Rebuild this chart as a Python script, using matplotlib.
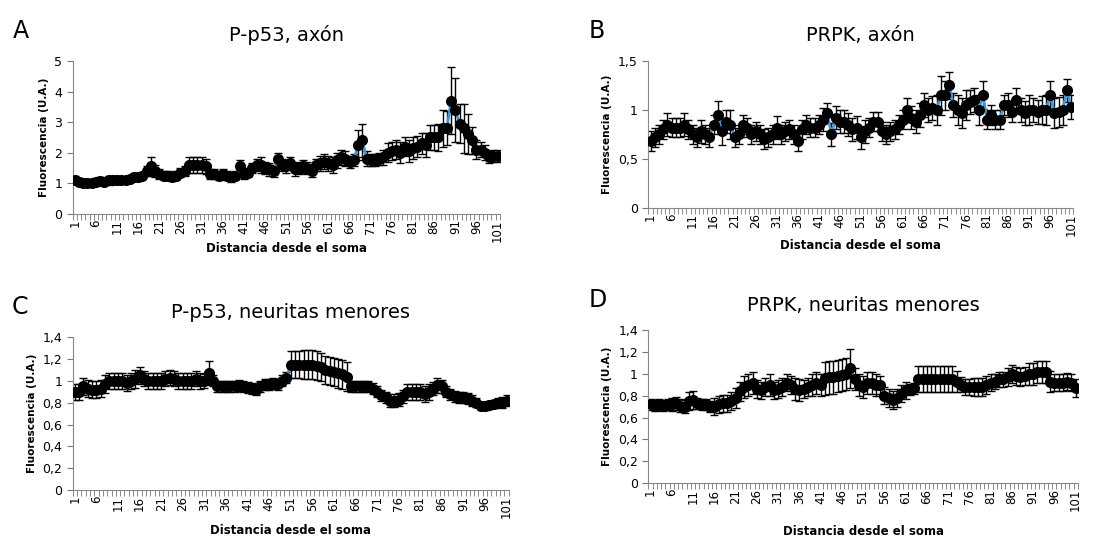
import numpy as np
import matplotlib
matplotlib.use("Agg")
import matplotlib.pyplot as plt
from matplotlib.ticker import FixedLocator, FuncFormatter

# distance from soma, positions 1..101
pos = list(range(1, 102))

a_vals = [1.10, 1.05, 1.00, 1.00, 1.00, 1.05, 1.08, 1.05, 1.10, 1.10,
          1.10, 1.10, 1.10, 1.15, 1.20, 1.20, 1.25, 1.40, 1.55, 1.40,
          1.30, 1.25, 1.25, 1.20, 1.25, 1.35, 1.40, 1.60, 1.60, 1.60,
          1.60, 1.55, 1.30, 1.30, 1.25, 1.30, 1.25, 1.20, 1.25, 1.55,
          1.30, 1.35, 1.50, 1.60, 1.60, 1.50, 1.45, 1.40, 1.80, 1.60,
          1.55, 1.65, 1.45, 1.50, 1.55, 1.50, 1.40, 1.60, 1.65, 1.70,
          1.65, 1.60, 1.75, 1.85, 1.80, 1.70, 1.75, 2.25, 2.40, 1.80,
          1.75, 1.75, 1.80, 1.85, 2.00, 2.05, 2.10, 2.00, 2.20, 2.05,
          2.15, 2.20, 2.30, 2.25, 2.50, 2.50, 2.50, 2.80, 2.80, 3.70,
          3.40, 2.95, 2.80, 2.60, 2.40, 2.10, 2.10, 2.00, 1.85, 1.90, 1.90]
a_err = [0.12, 0.12, 0.10, 0.10, 0.10, 0.12, 0.12, 0.10, 0.15, 0.12,
         0.10, 0.10, 0.10, 0.10, 0.12, 0.12, 0.12, 0.15, 0.30, 0.20,
         0.15, 0.15, 0.15, 0.12, 0.15, 0.15, 0.15, 0.25, 0.25, 0.25,
         0.25, 0.25, 0.15, 0.15, 0.15, 0.15, 0.15, 0.15, 0.15, 0.20,
         0.15, 0.15, 0.15, 0.20, 0.25, 0.20, 0.20, 0.20, 0.20, 0.20,
         0.20, 0.20, 0.20, 0.20, 0.20, 0.20, 0.20, 0.20, 0.25, 0.25,
         0.25, 0.25, 0.25, 0.25, 0.25, 0.20, 0.20, 0.50, 0.55, 0.25,
         0.20, 0.20, 0.20, 0.25, 0.30, 0.30, 0.30, 0.35, 0.30, 0.35,
         0.35, 0.35, 0.35, 0.40, 0.40, 0.40, 0.45, 0.60, 0.55, 1.10,
         1.05, 0.65, 0.80, 0.65, 0.45, 0.30, 0.25, 0.25, 0.20, 0.20, 0.20]

b_vals = [0.68, 0.72, 0.75, 0.80, 0.85, 0.82, 0.82, 0.82, 0.85, 0.80,
          0.75, 0.72, 0.78, 0.75, 0.72, 0.85, 0.95, 0.78, 0.88, 0.85,
          0.72, 0.75, 0.85, 0.82, 0.75, 0.78, 0.75, 0.70, 0.72, 0.75,
          0.82, 0.75, 0.78, 0.80, 0.75, 0.68, 0.80, 0.85, 0.82, 0.82,
          0.85, 0.90, 0.97, 0.75, 0.92, 0.88, 0.88, 0.85, 0.80, 0.82,
          0.72, 0.78, 0.82, 0.88, 0.88, 0.78, 0.75, 0.78, 0.80, 0.85,
          0.90, 1.00, 0.92, 0.88, 0.95, 1.05, 1.00, 1.02, 1.00, 1.15,
          1.15, 1.25, 1.05, 1.00, 0.97, 1.05, 1.08, 1.10, 1.00, 1.15,
          0.90, 0.95, 0.90, 0.90, 1.05, 1.05, 0.98, 1.10, 1.00, 0.97,
          1.00, 1.00, 0.98, 1.00, 1.00, 1.15, 0.97, 0.98, 1.00, 1.20, 1.03]
b_err = [0.10, 0.10, 0.10, 0.10, 0.12, 0.10, 0.10, 0.10, 0.12, 0.10,
         0.10, 0.10, 0.12, 0.10, 0.10, 0.10, 0.14, 0.14, 0.12, 0.15,
         0.10, 0.10, 0.10, 0.10, 0.10, 0.10, 0.10, 0.10, 0.10, 0.10,
         0.12, 0.10, 0.10, 0.10, 0.10, 0.10, 0.10, 0.10, 0.10, 0.10,
         0.10, 0.12, 0.10, 0.12, 0.12, 0.12, 0.12, 0.12, 0.12, 0.12,
         0.12, 0.12, 0.10, 0.10, 0.10, 0.10, 0.10, 0.10, 0.10, 0.10,
         0.10, 0.12, 0.12, 0.12, 0.12, 0.12, 0.12, 0.12, 0.15, 0.20,
         0.15, 0.14, 0.12, 0.15, 0.15, 0.15, 0.12, 0.12, 0.15, 0.14,
         0.10, 0.10, 0.10, 0.10, 0.10, 0.12, 0.10, 0.12, 0.12, 0.12,
         0.15, 0.12, 0.12, 0.14, 0.15, 0.15, 0.15, 0.15, 0.15, 0.12, 0.12]

c_vals = [0.90, 0.90, 0.95, 0.93, 0.92, 0.92, 0.93, 0.97, 1.00, 1.00,
          1.00, 1.00, 0.98, 1.00, 1.02, 1.05, 1.02, 1.00, 1.00, 1.00,
          1.00, 1.02, 1.03, 1.02, 1.00, 1.00, 1.00, 1.00, 1.02, 1.00,
          1.00, 1.07, 1.00, 0.95, 0.95, 0.95, 0.95, 0.95, 0.96, 0.95,
          0.94, 0.93, 0.92, 0.95, 0.97, 0.97, 0.98, 0.97, 1.00, 1.03,
          1.15, 1.15, 1.15, 1.15, 1.15, 1.15, 1.14, 1.13, 1.10, 1.09,
          1.08, 1.07, 1.06, 1.04, 0.95, 0.95, 0.95, 0.95, 0.95, 0.93,
          0.90, 0.87, 0.85, 0.82, 0.82, 0.83, 0.86, 0.90, 0.90, 0.90,
          0.90, 0.88, 0.90, 0.93, 0.96, 0.95, 0.90, 0.88, 0.86, 0.85,
          0.85, 0.84, 0.82, 0.80, 0.77, 0.77, 0.78, 0.79, 0.80, 0.80, 0.82]
c_err = [0.07, 0.07, 0.08, 0.08, 0.08, 0.08, 0.08, 0.08, 0.07, 0.07,
         0.07, 0.07, 0.07, 0.07, 0.08, 0.08, 0.07, 0.07, 0.07, 0.07,
         0.07, 0.07, 0.07, 0.07, 0.07, 0.07, 0.07, 0.07, 0.07, 0.07,
         0.06, 0.11, 0.05, 0.05, 0.05, 0.05, 0.05, 0.05, 0.05, 0.05,
         0.05, 0.05, 0.05, 0.05, 0.05, 0.05, 0.05, 0.05, 0.05, 0.05,
         0.12, 0.12, 0.12, 0.13, 0.13, 0.13, 0.13, 0.13, 0.13, 0.13,
         0.13, 0.13, 0.13, 0.13, 0.05, 0.05, 0.05, 0.05, 0.05, 0.05,
         0.05, 0.05, 0.05, 0.06, 0.06, 0.06, 0.06, 0.07, 0.07, 0.07,
         0.07, 0.07, 0.07, 0.06, 0.07, 0.06, 0.05, 0.05, 0.05, 0.05,
         0.05, 0.05, 0.05, 0.04, 0.04, 0.04, 0.04, 0.04, 0.04, 0.05, 0.05]

d_vals = [0.72, 0.71, 0.72, 0.71, 0.72, 0.72, 0.73, 0.71, 0.70, 0.75,
          0.76, 0.73, 0.72, 0.72, 0.70, 0.70, 0.72, 0.73, 0.73, 0.75,
          0.78, 0.84, 0.88, 0.90, 0.92, 0.86, 0.85, 0.88, 0.90, 0.85,
          0.86, 0.88, 0.92, 0.90, 0.86, 0.85, 0.86, 0.88, 0.90, 0.92,
          0.90, 0.96, 0.97, 0.97, 0.98, 0.99, 1.00, 1.05, 0.95, 0.90,
          0.88, 0.92, 0.92, 0.90, 0.90, 0.80, 0.78, 0.76, 0.78, 0.82,
          0.85, 0.86, 0.87, 0.95, 0.95, 0.95, 0.95, 0.95, 0.95, 0.95,
          0.95, 0.95, 0.93, 0.90, 0.88, 0.88, 0.88, 0.88, 0.88, 0.90,
          0.92, 0.93, 0.95, 0.95, 0.97, 1.00, 0.98, 0.97, 0.98, 1.00,
          1.00, 1.02, 1.02, 1.02, 0.93, 0.92, 0.92, 0.92, 0.93, 0.92, 0.87]
d_err = [0.05, 0.05, 0.05, 0.05, 0.05, 0.06, 0.06, 0.06, 0.06, 0.08,
         0.08, 0.05, 0.05, 0.05, 0.05, 0.08, 0.08, 0.08, 0.08, 0.08,
         0.09, 0.09, 0.10, 0.10, 0.10, 0.08, 0.08, 0.08, 0.10, 0.08,
         0.08, 0.08, 0.08, 0.08, 0.10, 0.10, 0.08, 0.08, 0.10, 0.10,
         0.10, 0.15, 0.15, 0.15, 0.15, 0.15, 0.15, 0.18, 0.10, 0.10,
         0.10, 0.10, 0.10, 0.10, 0.08, 0.08, 0.08, 0.08, 0.08, 0.08,
         0.08, 0.05, 0.05, 0.12, 0.12, 0.12, 0.12, 0.12, 0.12, 0.12,
         0.12, 0.12, 0.10, 0.07, 0.07, 0.07, 0.08, 0.08, 0.08, 0.08,
         0.08, 0.07, 0.07, 0.07, 0.08, 0.08, 0.08, 0.08, 0.08, 0.10,
         0.10, 0.10, 0.10, 0.10, 0.10, 0.08, 0.08, 0.08, 0.08, 0.08, 0.08]

panels = [
    ("A", "P-p53, axón", a_vals, a_err, [0, 1, 2, 3, 4, 5],
     [0.065, 0.607, 0.382, 0.281], 8),
    ("B", "PRPK, axón", b_vals, b_err, [0, 0.5, 1, 1.5],
     [0.580, 0.618, 0.380, 0.270], 10),
    ("C", "P-p53, neuritas menores", c_vals, c_err,
     [0, 0.2, 0.4, 0.6, 0.8, 1.0, 1.2, 1.4], [0.065, 0.099, 0.390, 0.281], 12),
    ("D", "PRPK, neuritas menores", d_vals, d_err,
     [0, 0.2, 0.4, 0.6, 0.8, 1.0, 1.2, 1.4], [0.580, 0.112, 0.384, 0.281], 18),
]


def excel_fmt(v, _):
    # Excel "general" number format with a decimal comma
    return f"{v:g}".replace(".", ",")


fig = plt.figure(figsize=(11.18, 5.44), dpi=100)

for letter, title, vals, err, yticks, rect, xlpad in panels:
    ax = fig.add_axes(rect)
    ax.errorbar(pos, vals, yerr=err, fmt="none", ecolor="black",
                elinewidth=1.0, capsize=3, capthick=1.0, zorder=2)
    ax.plot(pos, vals, color="#3d95d4", lw=2, zorder=3)
    ax.plot(pos, vals, "o", color="black", ms=7, zorder=4)

    ax.set_xlim(0.5, 101.5)
    ax.set_ylim(yticks[0], yticks[-1])
    ax.set_yticks(yticks)
    ax.yaxis.set_major_formatter(FuncFormatter(excel_fmt))
    ax.set_xticks(pos[::5])
    ax.set_xticklabels([str(p) for p in pos[::5]], rotation=90, fontsize=8.5)
    ax.xaxis.set_minor_locator(FixedLocator(np.arange(0.5, 102, 1)))
    ax.tick_params(axis="x", which="major", length=0, pad=4)
    ax.tick_params(axis="x", which="minor", length=4, color="#777777")
    ax.tick_params(axis="y", length=4, color="#777777", labelsize=9)
    for s in ("top", "right"):
        ax.spines[s].set_visible(False)
    for s in ("left", "bottom"):
        ax.spines[s].set_color("#888888")

    ax.set_ylabel("Fluorescencia (U.A.)", fontsize=7.5, fontweight="bold")
    ax.set_xlabel("Distancia desde el soma", fontsize=8.5, fontweight="bold",
                  labelpad=xlpad - 8)
    ax.set_title(title, fontsize=14, pad=14)
    ax.text(-0.14, 1.12, letter, transform=ax.transAxes, fontsize=17,
            va="bottom", ha="left")

fig.savefig("out.png", dpi=100)
